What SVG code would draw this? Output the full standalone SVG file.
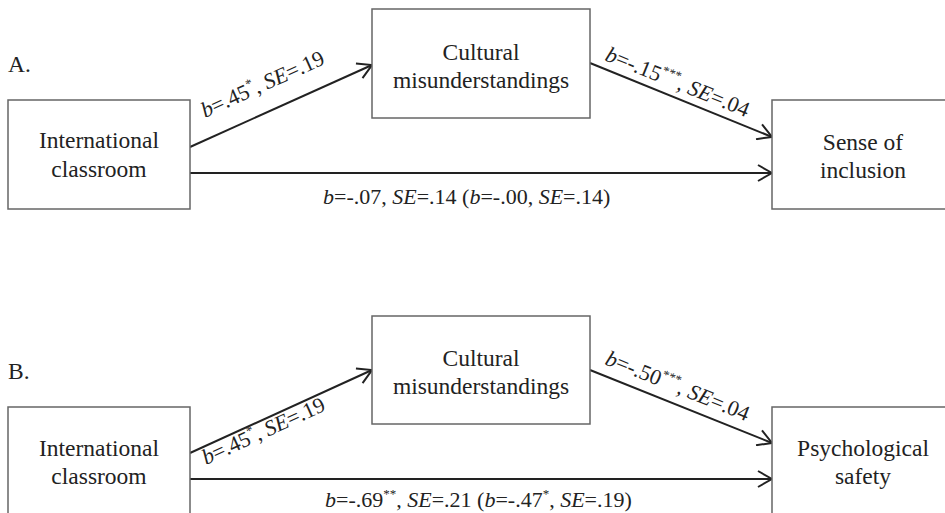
<svg xmlns="http://www.w3.org/2000/svg" width="945" height="513" viewBox="0 0 945 513">
<style>
  .box { fill: #fff; stroke: #666; stroke-width: 1.5; }
  .nt { font-family: "Liberation Serif", "Times New Roman", serif; font-size: 23.5px; fill: #222; text-anchor: middle; }
  .lab { font-family: "Liberation Serif", "Times New Roman", serif; font-size: 22px; fill: #222; }
  .panel { font-family: "Liberation Serif", "Times New Roman", serif; font-size: 23.5px; fill: #222; }
  .arr { stroke: #222; stroke-width: 2; fill: none; marker-end: url(#ah); }
  .i { font-style: italic; }
</style>
<defs>
  <marker id="ah" viewBox="0 0 16 18" refX="15" refY="9" markerWidth="16" markerHeight="18" markerUnits="userSpaceOnUse" orient="auto">
    <path d="M1,1 L15,9 L1,17" fill="none" stroke="#222" stroke-width="2" stroke-linejoin="miter"/>
  </marker>
</defs>
<rect width="945" height="513" fill="#fff"/>

<text class="panel" x="8" y="72">A.</text>
<text class="panel" x="8" y="379">B.</text>

<g id="connectors">
  <line class="arr" x1="190" y1="147" x2="372" y2="65"/>
  <line class="arr" x1="590" y1="63" x2="772" y2="137"/>
  <line class="arr" x1="190" y1="173" x2="772" y2="173"/>
  <line class="arr" x1="190" y1="453" x2="372" y2="370"/>
  <line class="arr" x1="590" y1="370" x2="772" y2="443"/>
  <line class="arr" x1="190" y1="479" x2="772" y2="479"/>

  <text class="lab" transform="translate(205,118) rotate(-24.3)"><tspan class="i">b</tspan>=.45<tspan font-size="13" dy="-9">*</tspan><tspan dy="9">, </tspan><tspan class="i">SE</tspan>=.19</text>
  <text class="lab" transform="translate(604,60) rotate(22)"><tspan class="i">b</tspan>=-.15<tspan font-size="13" dy="-9">***</tspan><tspan dy="9">, </tspan><tspan class="i">SE</tspan>=.04</text>
  <text class="lab" x="323" y="204"><tspan class="i">b</tspan>=-.07, <tspan class="i">SE</tspan>=.14 (<tspan class="i">b</tspan>=-.00, <tspan class="i">SE</tspan>=.14)</text>

  <text class="lab" transform="translate(206,465) rotate(-24.5)"><tspan class="i">b</tspan>=.45<tspan font-size="13" dy="-9">*</tspan><tspan dy="9">, </tspan><tspan class="i">SE</tspan>=.19</text>
  <text class="lab" transform="translate(604,364) rotate(22)"><tspan class="i">b</tspan>=-.50<tspan font-size="13" dy="-9">***</tspan><tspan dy="9">, </tspan><tspan class="i">SE</tspan>=.04</text>
  <text class="lab" x="325" y="507"><tspan class="i">b</tspan>=-.69<tspan font-size="13" dy="-9">**</tspan><tspan dy="9">, </tspan><tspan class="i">SE</tspan>=.21 (<tspan class="i">b</tspan>=-.47<tspan font-size="13" dy="-9">*</tspan><tspan dy="9">, </tspan><tspan class="i">SE</tspan>=.19)</text>
</g>

<g id="a-international">
  <rect class="box" x="8" y="100" width="182" height="109"/>
  <text class="nt" x="99" y="148">International</text>
  <text class="nt" x="99" y="177">classroom</text>
</g>
<g id="a-cultural">
  <rect class="box" x="372" y="9" width="218" height="109"/>
  <text class="nt" x="481" y="60">Cultural</text>
  <text class="nt" x="481" y="88">misunderstandings</text>
</g>
<g id="a-inclusion">
  <rect class="box" x="772" y="100" width="182" height="109"/>
  <text class="nt" x="863" y="150">Sense of</text>
  <text class="nt" x="863" y="178">inclusion</text>
</g>

<g id="b-international">
  <rect class="box" x="8" y="407" width="182" height="112"/>
  <text class="nt" x="99" y="456">International</text>
  <text class="nt" x="99" y="484">classroom</text>
</g>
<g id="b-cultural">
  <rect class="box" x="372" y="316" width="218" height="108"/>
  <text class="nt" x="481" y="366">Cultural</text>
  <text class="nt" x="481" y="394">misunderstandings</text>
</g>
<g id="b-safety">
  <rect class="box" x="772" y="407" width="182" height="112"/>
  <text class="nt" x="863" y="456">Psychological</text>
  <text class="nt" x="863" y="484">safety</text>
</g>
</svg>
